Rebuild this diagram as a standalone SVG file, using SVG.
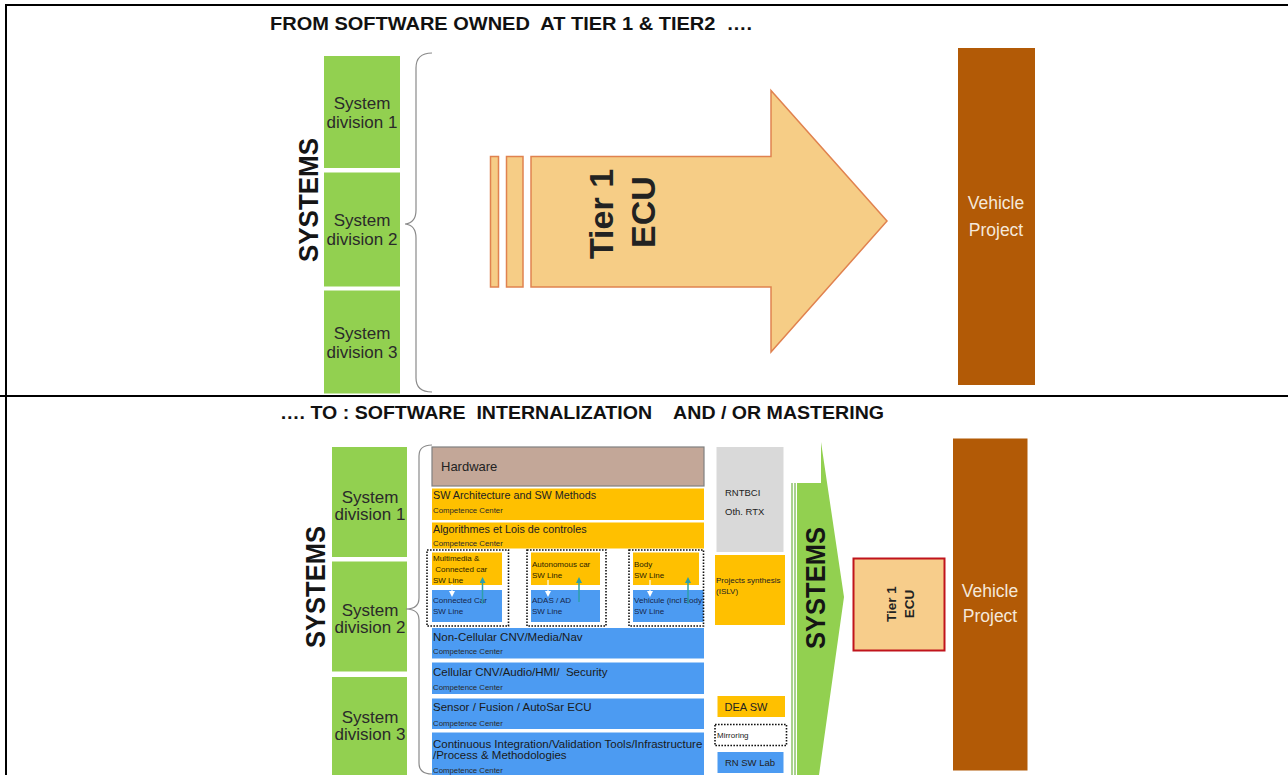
<svg xmlns="http://www.w3.org/2000/svg" width="1288" height="775" viewBox="0 0 1288 775">
<style>
text{font-family:"Liberation Sans",Arial,sans-serif;fill:#222}
.b{font-weight:bold}
.title{font-size:17.5px;font-weight:bold;fill:#111;white-space:pre}
.grn{fill:#92D050}
.sd{font-size:17px;fill:#2a2a2a;text-anchor:middle}
.sys{font-size:27px;font-weight:bold;fill:#151515;text-anchor:middle}
.brn{fill:#B25A06}
.vp{font-size:17.5px;fill:#F5E8DA;text-anchor:middle}
.org{fill:#FFC000}
.blu{fill:#4C9BF2}
.row{font-size:11.5px;fill:#1a1a1a;white-space:pre}
.cc{font-size:7.8px;fill:#2a2a2a}
.sm{font-size:8px;fill:#2a2200;white-space:pre}
.smb{font-size:8px;fill:#16264a}
.dash{fill:none;stroke:#111;stroke-width:1.6;stroke-dasharray:1.6 1.4}
.brace{fill:none;stroke:#8a8a8a;stroke-width:1.2}
.rule{stroke:#000;stroke-width:2}
</style>
<defs>
<marker id="mw" markerWidth="6" markerHeight="6" refX="3" refY="3" orient="auto" markerUnits="userSpaceOnUse"><path d="M0,0 L6,3 L0,6 z" fill="#ffffff"/></marker>
<marker id="mt" markerWidth="6" markerHeight="6" refX="3" refY="3" orient="auto" markerUnits="userSpaceOnUse"><path d="M0,0 L6,3 L0,6 z" fill="#2E9FA8"/></marker>
</defs>
<rect width="1288" height="775" fill="#ffffff"/>
<g id="frame">
<line class="rule" x1="6" y1="5" x2="1288" y2="5"/>
<line class="rule" x1="6" y1="4" x2="6" y2="775"/>
<line class="rule" x1="0" y1="396" x2="1288" y2="396"/>
</g>
<g id="title-top"><text class="title" x="270" y="30" textLength="482" lengthAdjust="spacingAndGlyphs">FROM SOFTWARE OWNED  AT TIER 1 &amp; TIER2  ….</text></g>
<g id="title-bottom"><text class="title" x="280" y="419" textLength="604" lengthAdjust="spacingAndGlyphs">…. TO : SOFTWARE  INTERNALIZATION    AND / OR MASTERING</text></g>

<!-- TOP SECTION -->
<g id="top-systems-label"><text class="sys" transform="translate(318,200) rotate(-90)" textLength="124" lengthAdjust="spacingAndGlyphs">SYSTEMS</text></g>
<g id="top-sd1"><rect class="grn" x="324" y="56" width="76" height="112"/><text class="sd" x="362" y="109">System</text><text class="sd" x="362" y="128">division 1</text></g>
<g id="top-sd2"><rect class="grn" x="324" y="172.5" width="76" height="114"/><text class="sd" x="362" y="226">System</text><text class="sd" x="362" y="245">division 2</text></g>
<g id="top-sd3"><rect class="grn" x="324" y="290.5" width="76" height="103"/><text class="sd" x="362" y="339">System</text><text class="sd" x="362" y="358">division 3</text></g>
<g id="top-brace"><path class="brace" d="M432,53 Q416,53 416,68 L416,210 Q416,223 405,224 Q416,225 416,238 L416,378 Q416,392 432,392"/></g>
<g id="top-tier1-arrow">
<rect x="490.5" y="156.5" width="8" height="130.5" fill="#F6CD86" stroke="#E0824F" stroke-width="1.5"/>
<rect x="506.5" y="156.5" width="16.5" height="130.5" fill="#F6CD86" stroke="#E0824F" stroke-width="1.5"/>
<polygon points="531,156.5 771,156.5 771,90.5 887,221 771,352 771,287 531,287" fill="#F6CD86" stroke="#E0824F" stroke-width="1.5"/>
<text class="b" font-size="34" text-anchor="middle" fill="#111" transform="translate(613,214) rotate(-90)">Tier 1</text>
<text class="b" font-size="34" text-anchor="middle" fill="#111" transform="translate(655,212) rotate(-90)">ECU</text>
</g>
<g id="top-vehicle"><rect class="brn" x="958" y="48" width="77" height="337"/><text class="vp" x="996" y="209">Vehicle</text><text class="vp" x="996" y="236">Project</text></g>

<!-- BOTTOM SECTION -->
<g id="bot-systems-label"><text class="sys" transform="translate(325,587) rotate(-90)" textLength="122" lengthAdjust="spacingAndGlyphs">SYSTEMS</text></g>
<g id="bot-sd1"><rect class="grn" x="332" y="447" width="75" height="110"/><text class="sd" x="370" y="503">System</text><text class="sd" x="370" y="520">division 1</text></g>
<g id="bot-sd2"><rect class="grn" x="332" y="561.5" width="75" height="110"/><text class="sd" x="370" y="616">System</text><text class="sd" x="370" y="633">division 2</text></g>
<g id="bot-sd3"><rect class="grn" x="332" y="677" width="75" height="98"/><text class="sd" x="370" y="723">System</text><text class="sd" x="370" y="740">division 3</text></g>
<g id="bot-brace"><path class="brace" d="M432,445 Q419,445 419,456 L419,598 Q419,609 406,609 Q419,609 419,620 L419,763 Q419,774 432,774"/></g>

<g id="hardware"><rect x="432" y="447" width="272" height="39" fill="#C3A798" stroke="#808080" stroke-width="1.2"/><text x="441" y="470.5" font-size="13">Hardware</text></g>
<g id="sw-arch"><rect class="org" x="432" y="488.5" width="272" height="31.5"/><text x="433" y="499" font-size="10.8" fill="#3a2e00">SW Architecture and SW Methods</text><text class="cc" x="433" y="513">Competence Center</text></g>
<g id="algo"><rect class="org" x="432" y="522.5" width="272" height="26"/><text x="433" y="533" font-size="10.8" fill="#3a2e00">Algorithmes et Lois de controles</text><text class="cc" x="433" y="546">Competence Center</text></g>

<g id="sw-line-multimedia">
<rect class="org" x="432" y="552.5" width="70" height="32.5"/>
<rect class="blu" x="432" y="590" width="70" height="32"/>
<rect class="dash" x="427" y="550" width="81.5" height="76"/>
<text class="sm" x="433" y="561">Multimedia &amp;</text><text class="sm" x="433" y="572"> Connected car</text><text class="sm" x="433" y="583">SW Line</text>
<text class="smb" x="433" y="603">Connected Car</text><text class="smb" x="433" y="614">SW Line</text>
</g>
<g id="sw-line-autonomous">
<rect class="org" x="531" y="552.5" width="69" height="32.5"/>
<rect class="blu" x="531" y="590" width="69" height="32"/>
<rect class="dash" x="527" y="550" width="79" height="76"/>
<text class="sm" x="532" y="567">Autonomous car</text><text class="sm" x="532" y="578">SW Line</text>
<text class="smb" x="532" y="603">ADAS / AD</text><text class="smb" x="532" y="614">SW Line</text>
</g>
<g id="sw-line-body">
<rect class="org" x="633" y="552.5" width="66" height="32.5"/>
<rect class="blu" x="633" y="590" width="70.5" height="32"/>
<rect class="dash" x="629" y="550" width="74.5" height="76"/>
<text class="sm" x="634" y="567">Body</text><text class="sm" x="634" y="578">SW Line</text>
<text class="smb" x="634" y="603" textLength="68" lengthAdjust="spacingAndGlyphs">Vehicule (incl Body</text><text class="smb" x="634" y="614">SW Line</text>
</g>

<g id="non-cellular"><rect class="blu" x="432" y="628" width="272" height="30.5"/><text class="row" x="433" y="641">Non-Cellular CNV/Media/Nav</text><text class="cc" x="433" y="653.5">Competence Center</text></g>
<g id="cellular"><rect class="blu" x="432" y="662.5" width="272" height="31.5"/><text class="row" x="433" y="676">Cellular CNV/Audio/HMI/  Security</text><text class="cc" x="433" y="689.5">Competence Center</text></g>
<g id="sensor"><rect class="blu" x="432" y="698.5" width="272" height="30.5"/><text class="row" x="433" y="711">Sensor / Fusion / AutoSar ECU</text><text class="cc" x="433" y="725.5">Competence Center</text></g>
<g id="ci"><rect class="blu" x="432" y="732.5" width="272" height="43"/><text class="row" x="433" y="747.5" font-size="10.8">Continuous Integration/Validation Tools/Infrastructure</text><text class="row" x="433" y="759" font-size="10.8">/Process &amp; Methodologies</text><text class="cc" x="433" y="773">Competence Center</text></g>

<g id="rntbci"><rect x="716.5" y="447" width="67" height="105" fill="#D9D9D9"/><text x="725" y="496" font-size="9.5" fill="#333">RNTBCI</text><text x="725" y="515" font-size="9.5" fill="#333">Oth. RTX</text></g>
<g id="projects-synthesis"><rect class="org" x="715" y="555" width="70" height="70"/><text x="716" y="583" font-size="8" fill="#3a2e00">Projects synthesis</text><text x="716" y="594" font-size="8" fill="#3a2e00">(ISLV)</text></g>
<g id="dea-sw"><rect class="org" x="717.5" y="696" width="67.5" height="21"/><text x="746" y="710.5" font-size="11" fill="#333" text-anchor="middle">DEA SW</text></g>
<g id="mirroring"><rect class="dash" x="715" y="724.5" width="71.5" height="21"/><text x="717" y="737.5" font-size="8" fill="#333">Mirroring</text></g>
<g id="rn-sw-lab"><rect class="blu" x="717.5" y="752" width="66" height="21"/><text x="750" y="766" font-size="9.5" fill="#222" text-anchor="middle">RN SW Lab</text></g>

<g id="bot-systems-arrow">
<rect x="791" y="483" width="2" height="292" fill="#A9D18E"/>
<rect x="794" y="483" width="2" height="292" fill="#A9D18E"/>
<polygon class="grn" points="797,483 821,483 821,442 844,597 819,775 797,775"/>
<text class="sys" transform="translate(825,588) rotate(-90)" textLength="122" lengthAdjust="spacingAndGlyphs">SYSTEMS</text>
</g>
<g id="bot-tier1"><rect x="853.5" y="558.5" width="91" height="92" fill="#F7CD8B" stroke="#C0141C" stroke-width="2"/>
<text class="b" font-size="13.5" text-anchor="middle" fill="#111" transform="translate(896,604) rotate(-90)">Tier 1</text>
<text class="b" font-size="13.5" text-anchor="middle" fill="#111" transform="translate(914,604) rotate(-90)">ECU</text></g>
<g id="bot-vehicle"><rect class="brn" x="953" y="438.5" width="74.5" height="332"/><text class="vp" x="990" y="597">Vehicle</text><text class="vp" x="990" y="622">Project</text></g>

<g id="connectors">
<line x1="452" y1="584" x2="452" y2="594" stroke="#ffffff" stroke-width="1.2" marker-end="url(#mw)"/>
<line x1="482.5" y1="604" x2="482.5" y2="580" stroke="#2E9FA8" stroke-width="1.5" marker-end="url(#mt)"/>
<line x1="548" y1="580" x2="548" y2="594" stroke="#ffffff" stroke-width="1.2" marker-end="url(#mw)"/>
<line x1="579" y1="602" x2="579" y2="580" stroke="#2E9FA8" stroke-width="1.5" marker-end="url(#mt)"/>
<line x1="650" y1="580" x2="650" y2="594" stroke="#ffffff" stroke-width="1.2" marker-end="url(#mw)"/>
<line x1="688" y1="604" x2="688" y2="580" stroke="#2E9FA8" stroke-width="1.5" marker-end="url(#mt)"/>
</g>
</svg>
